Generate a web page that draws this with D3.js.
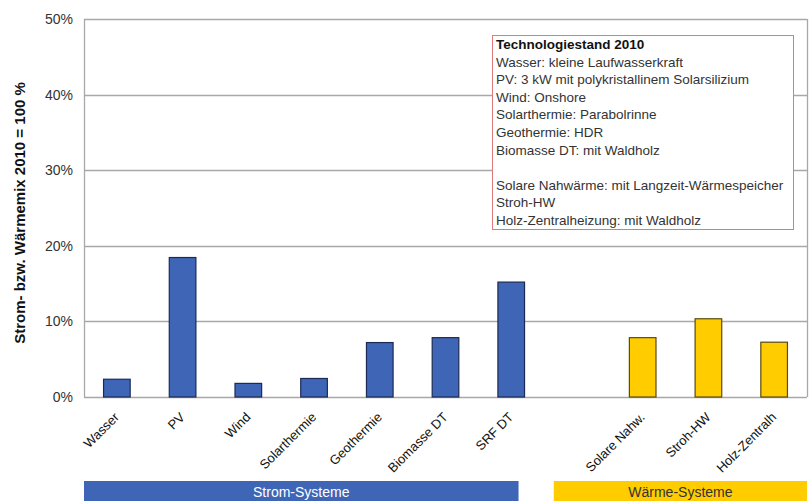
<!DOCTYPE html>
<html>
<head>
<meta charset="utf-8">
<script src="https://cdn.jsdelivr.net/npm/d3@7.9.0/dist/d3.min.js"></script>
<style>
  body { margin: 0; background: #fff; }
  svg { font-family: Arial, "Liberation Sans", sans-serif; }
</style>
</head>
<body>
<svg id="chart" width="812" height="501"></svg>
<script>
// values (percent of 2010 mix)
const categories = ['Wasser', 'PV', 'Wind', 'Solarthermie', 'Geothermie', 'Biomasse DT', 'SRF DT', '',
  'Solare Nahw.', 'Stroh-HW', 'Holz-Zentralh'];
const values = [2.35, 18.45, 1.8, 2.45, 7.2, 7.85, 15.2, null, 7.85, 10.35, 7.25];
const groups = ['strom', 'strom', 'strom', 'strom', 'strom', 'strom', 'strom', null, 'waerme', 'waerme', 'waerme'];
const yTicks = [0, 10, 20, 30, 40, 50];
const legendLines = [
  'Wasser: kleine Laufwasserkraft',
  'PV: 3 kW mit polykristallinem Solarsilizium',
  'Wind: Onshore',
  'Solarthermie: Parabolrinne',
  'Geothermie: HDR',
  'Biomasse DT: mit Waldholz',
  '',
  'Solare Nahwärme: mit Langzeit-Wärmespeicher',
  'Stroh-HW',
  'Holz-Zentralheizung: mit Waldholz'
];

const colors = {
  strom: { fill: '#3f66b6', stroke: '#1b2a55' },
  waerme: { fill: '#ffcc00', stroke: '#5a4a10' }
};

const margin = { left: 84, right: 5, top: 19, bottom: 104 };
const W = 812, H = 501;

const svg = d3.select('#chart');

const x = d3.scaleBand()
  .domain(d3.range(categories.length))
  .range([margin.left, W - margin.right])
  .paddingInner(0.595)
  .paddingOuter(0.2975);

const y = d3.scaleLinear()
  .domain([0, 50])
  .range([H - margin.bottom, margin.top]);

// gridlines
svg.append('g')
  .selectAll('line')
  .data(yTicks)
  .join('line')
  .attr('x1', margin.left)
  .attr('x2', W - margin.right)
  .attr('y1', d => Math.round(y(d)) + 0.5)
  .attr('y2', d => Math.round(y(d)) + 0.5)
  .attr('stroke', '#a8a8a8')
  .attr('stroke-width', 1.3);

// plot frame (left + right sides)
[margin.left, W - margin.right].forEach(px => {
  svg.append('line')
    .attr('x1', px + 0.5).attr('x2', px + 0.5)
    .attr('y1', y(50)).attr('y2', y(0))
    .attr('stroke', '#a8a8a8')
    .attr('stroke-width', 1.3);
});

// y tick labels
svg.append('g')
  .selectAll('text')
  .data(yTicks)
  .join('text')
  .attr('x', margin.left - 11)
  .attr('y', d => y(d) + 5)
  .attr('text-anchor', 'end')
  .attr('font-size', 14)
  .attr('fill', '#333')
  .text(d => d + '%');

// y axis title
svg.append('text')
  .attr('transform', `translate(25,${(y(0) + y(50)) / 2 + 5}) rotate(-90)`)
  .attr('text-anchor', 'middle')
  .attr('font-size', 15)
  .attr('font-weight', 'bold')
  .attr('fill', '#111')
  .text('Strom- bzw. Wärmemix 2010 = 100 %');

// bars
const barData = values.map((v, i) => ({ v, i, g: groups[i] })).filter(d => d.v != null);

svg.append('g')
  .selectAll('rect')
  .data(barData)
  .join('rect')
  .attr('x', d => x(d.i))
  .attr('y', d => y(d.v))
  .attr('width', x.bandwidth())
  .attr('height', d => y(0) - y(d.v))
  .attr('fill', d => colors[d.g].fill)
  .attr('stroke', d => colors[d.g].stroke)
  .attr('stroke-width', 1.2);

// category labels
svg.append('g')
  .selectAll('text')
  .data(categories.map((c, i) => ({ c, i })).filter(d => d.c))
  .join('text')
  .attr('transform', d => `translate(${x(d.i) + x.bandwidth() / 2 + 3},${y(0) + 21}) rotate(-45)`)
  .attr('text-anchor', 'end')
  .attr('font-size', 13)
  .attr('fill', '#111')
  .text(d => d.c);

// group bands
const step = x.step();
const bands = [
  { label: 'Strom-Systeme', x0: margin.left, x1: x(6) + x.bandwidth() - 6, fill: colors.strom.fill, text: '#fff' },
  { label: 'Wärme-Systeme', x0: x(7) - step * 0.15, x1: W - margin.right, fill: colors.waerme.fill, text: '#333' }
];

svg.append('g')
  .selectAll('rect')
  .data(bands)
  .join('rect')
  .attr('x', d => d.x0)
  .attr('y', 481)
  .attr('width', d => d.x1 - d.x0)
  .attr('height', 22)
  .attr('fill', d => d.fill);

svg.append('g')
  .selectAll('text')
  .data(bands)
  .join('text')
  .attr('x', d => (d.x0 + d.x1) / 2)
  .attr('y', 497)
  .attr('text-anchor', 'middle')
  .attr('font-size', 14)
  .attr('fill', d => d.text)
  .text(d => d.label);

// legend box
const lg = svg.append('g').attr('transform', 'translate(492,35)');
lg.append('rect')
  .attr('x', 0.5).attr('y', 0.5)
  .attr('width', 301).attr('height', 194)
  .attr('fill', '#fff')
  .attr('stroke', '#e07a7a')
  .attr('stroke-width', 1);

lg.append('text')
  .attr('x', 4).attr('y', 14)
  .attr('font-size', 13.5)
  .attr('font-weight', 'bold')
  .attr('fill', '#111')
  .text('Technologiestand 2010');

lg.selectAll('text.line')
  .data(legendLines)
  .join('text')
  .attr('class', 'line')
  .attr('x', 4)
  .attr('y', (d, i) => 14 + (i + 1) * 17.6)
  .attr('font-size', 13.5)
  .attr('fill', '#333')
  .text(d => d);
</script>
</body>
</html>
